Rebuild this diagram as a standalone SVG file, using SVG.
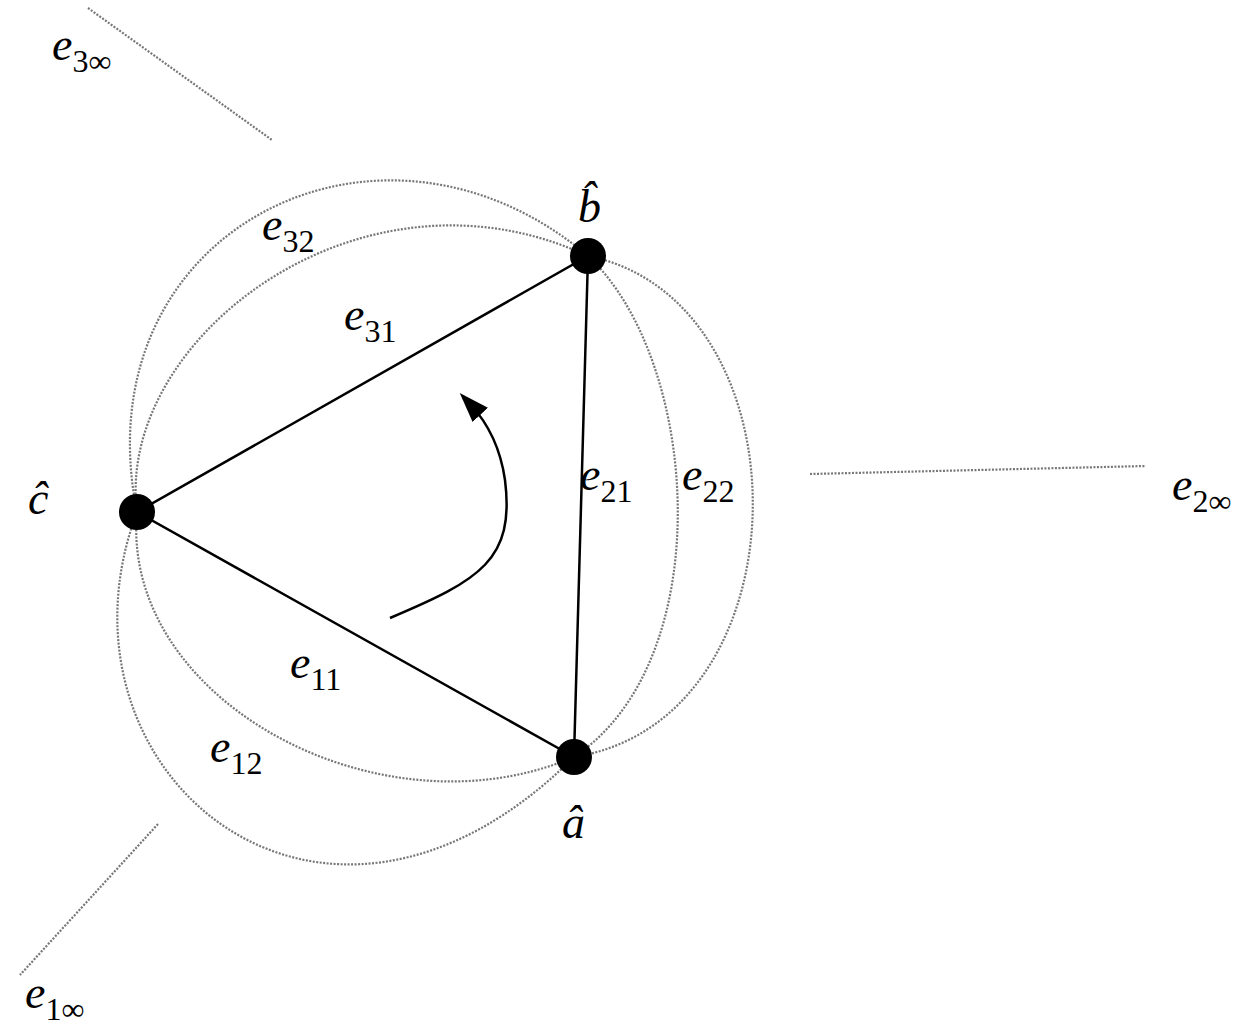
<svg xmlns="http://www.w3.org/2000/svg" width="1258" height="1028" viewBox="0 0 1258 1028">
<style>
.d{fill:none;stroke:#777;stroke-width:2.2;stroke-dasharray:2 1.5}
.s{fill:none;stroke:#000;stroke-width:2.5}
text{font-family:"Liberation Serif",serif;font-style:italic;font-size:46px;fill:#000}
.sub{font-style:normal;font-size:32px}
</style>
<defs>
<marker id="ah2" viewBox="0 0 10 10" refX="5" refY="5" markerWidth="30" markerHeight="30" orient="auto" markerUnits="userSpaceOnUse"><path d="M0,1.5L10,5L0,8.5z"/></marker></defs>
<rect width="1258" height="1028" fill="#fff"/>
<g id="connectors">
<path class="d" d="M137,512 C115,340 360,150 588,256"/>
<path class="d" d="M137,512 C80,230 380,80 588,256"/>
<path class="d" d="M588,256 C700,360 720,660 574,757"/>
<path class="d" d="M588,256 C810,300 810,720 574,757"/>
<path class="d" d="M137,512 C120,700 380,840 574,757"/>
<path class="d" d="M137,512 C40,770 320,1010 574,757"/>
<path class="d" d="M88,8 L272,140"/>
<path class="d" d="M810,474 L1146,466"/>
<path class="d" d="M158,824 L20,975"/>
<path class="s" d="M137,512 L588,256 L574,757 Z"/>
<path class="s" d="M390,618 C480,580 515,560 505,480 C500,445 485,420 470,404" marker-end="url(#ah2)"/>
</g>
<g id="node-b"><circle cx="588" cy="256" r="18"/><text x="578" y="222">b̂</text></g>
<g id="node-c"><circle cx="137" cy="512" r="18"/><text x="28" y="514">ĉ</text></g>
<g id="node-a"><circle cx="574" cy="757" r="18"/><text x="562" y="838">â</text></g>
<g id="labels">
<text x="52" y="60">e<tspan class="sub" dy="12">3∞</tspan></text>
<text x="262" y="240">e<tspan class="sub" dy="12">32</tspan></text>
<text x="344" y="330">e<tspan class="sub" dy="12">31</tspan></text>
<text x="580" y="490">e<tspan class="sub" dy="12">21</tspan></text>
<text x="682" y="490">e<tspan class="sub" dy="12">22</tspan></text>
<text x="290" y="678">e<tspan class="sub" dy="12">11</tspan></text>
<text x="210" y="762">e<tspan class="sub" dy="12">12</tspan></text>
<text x="1172" y="500">e<tspan class="sub" dy="12">2∞</tspan></text>
<text x="25" y="1008">e<tspan class="sub" dy="12">1∞</tspan></text>
</g>
</svg>
